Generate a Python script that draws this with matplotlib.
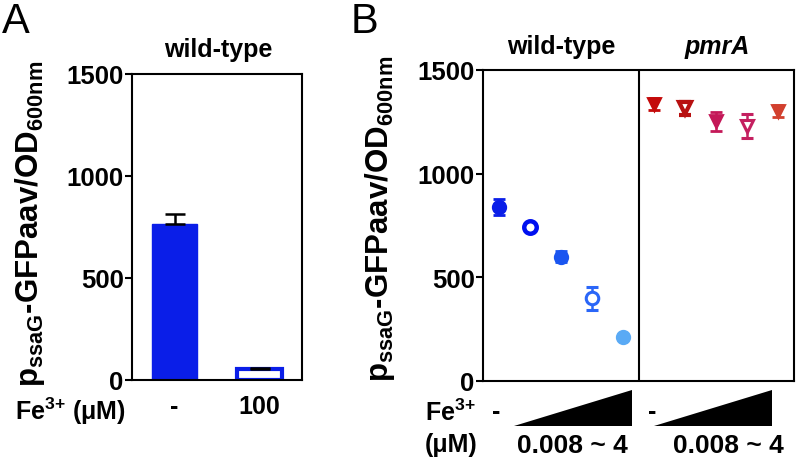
import matplotlib
matplotlib.use('Agg')
import matplotlib.pyplot as plt
import matplotlib.transforms as mtransforms

plt.rcParams['font.family'] = ['Liberation Sans', 'DejaVu Sans']
plt.rcParams['font.weight'] = 'bold'
plt.rcParams['mathtext.fontset'] = 'custom'
plt.rcParams['mathtext.rm'] = 'Liberation Sans:bold'
plt.rcParams['mathtext.bf'] = 'Liberation Sans:bold'
plt.rcParams['mathtext.it'] = 'Liberation Sans:bold:italic'

# ---- data ----
# panel A: wild-type bars
barLabels = ['-', '100']
barValues = [765, 55]
barErrors = [50, 6]

# panel B: wild-type (circles) and pmrA (triangles), Fe3+ 0 then 0.008 ~ 4 uM
wtValues = [840, 742, 600, 398, 214]
wtErrors = [37, 10, 28, 55, 0]
wtColors = ['#0a1ee8', '#0010f0', '#1a55f0', '#2a66f8', '#5aaaf5']
wtFilled = [True, False, True, False, True]
wtEdge = [2.0, 3.2, 2.0, 2.2, 2.0]

pmrValues = [1336, 1316, 1252, 1230, 1303]
pmrErrors = [30, 32, 45, 58, 28]
pmrColors = ['#c40a0a', '#b81010', '#c41858', '#c42060', '#d2402e']
pmrFilled = [True, False, True, False, True]
pmrEdge = [2.0, 3.0, 2.0, 2.2, 2.0]

W, H = 799, 460
fig = plt.figure(figsize=(W / 100, H / 100), dpi=100)

def px(x, y):
    return x / W, 1 - y / H

def style_axes(ax):
    for s in ax.spines.values():
        s.set_linewidth(1.5)
    ax.tick_params(axis='y', length=5, width=1.5, labelsize=18.5, pad=1)
    ax.set_ylim(0, 1500)
    ax.set_yticks([0, 500, 1000, 1500])
    for t in ax.get_yticklabels():
        t.set_fontweight('bold')

ylab = r'p$_{\mathbf{ssaG}}$-GFPaav/OD$_{\mathbf{600nm}}$'
fe = r'Fe$^{\mathbf{3{+}}}$'

# ---- Panel A ----
axA = fig.add_axes([132 / W, 1 - 381 / H, 170 / W, 306 / H])
xs = list(range(len(barValues)))
axA.bar(xs[0], barValues[0], width=0.54, color='#0a1ee8', edgecolor='#0a1ee8', zorder=2)
axA.bar(xs[1], barValues[1], width=0.54, color='white', edgecolor='#0a1ee8', linewidth=3, zorder=2)
axA.errorbar(xs, barValues, yerr=[[0, 0], barErrors], fmt='none', ecolor='black',
             elinewidth=1.8, capsize=7, capthick=1.8, zorder=3)
axA.set_xlim(-0.5, 1.5)
style_axes(axA)
axA.set_xticks(xs)
axA.set_xticklabels(barLabels, fontsize=18, fontweight='bold')
axA.tick_params(axis='x', length=0, pad=10)

# ---- Panel B ----
axB = fig.add_axes([483 / W, 1 - 382 / H, 311 / W, 311 / H])
for i in range(5):
    c = wtColors[i]
    axB.errorbar(i + 1, wtValues[i], yerr=wtErrors[i] if wtErrors[i] else None,
                 fmt='o', ms=9, mfc=c if wtFilled[i] else 'white', mec=c, mew=wtEdge[i],
                 ecolor=c, elinewidth=1.8, capsize=4.5, capthick=1.8)
    c = pmrColors[i]
    axB.errorbar(i + 6, pmrValues[i], yerr=pmrErrors[i],
                 fmt='v', ms=8, mfc=c if pmrFilled[i] else 'white', mec=c, mew=pmrEdge[i],
                 ecolor=c, elinewidth=1.8, capsize=4.5, capthick=1.8)
axB.axvline(5.5, color='black', lw=1.5)
axB.set_xlim(0.5, 10.5)
axB.set_xticks([])
style_axes(axB)

# concentration wedges below panel B
tr = mtransforms.blended_transform_factory(axB.transData, axB.transAxes)
for x0, x1 in [(1.5, 5.3), (6.0, 9.8)]:
    axB.fill([x0, x1, x1], [-0.146, -0.146, -0.028], color='black', transform=tr, clip_on=False, lw=0)

# ---- text ----
fig.text(*px(30, 224), ylab, fontsize=22.5, rotation=90, ha='center', va='center')
fig.text(*px(380, 219), ylab, fontsize=22.5, rotation=90, ha='center', va='center')
fig.text(*px(2, 22), 'A', fontsize=30, fontweight='normal', va='center', ha='left')
fig.text(*px(351, 22), 'B', fontsize=30, fontweight='normal', va='center', ha='left')
fig.text(*px(218, 50), 'wild-type', fontsize=18, ha='center', va='center')
fig.text(*px(561, 47), 'wild-type', fontsize=18, ha='center', va='center')
fig.text(*px(717, 47), 'pmrA', fontsize=18, style='italic', ha='center', va='center')
fig.text(*px(15, 411), fe + ' (μM)', fontsize=18, ha='left', va='center')
fig.text(*px(425, 413), fe, fontsize=18, ha='left', va='center')
fig.text(*px(425, 445), '(μM)', fontsize=18, ha='left', va='center')
fig.text(*px(496, 412), '-', fontsize=18, ha='center', va='center')
fig.text(*px(652, 412), '-', fontsize=18, ha='center', va='center')
fig.text(*px(572, 446), '0.008 ~ 4', fontsize=19, ha='center', va='center')
fig.text(*px(728, 446), '0.008 ~ 4', fontsize=19, ha='center', va='center')

fig.savefig('out.png', dpi=100)
